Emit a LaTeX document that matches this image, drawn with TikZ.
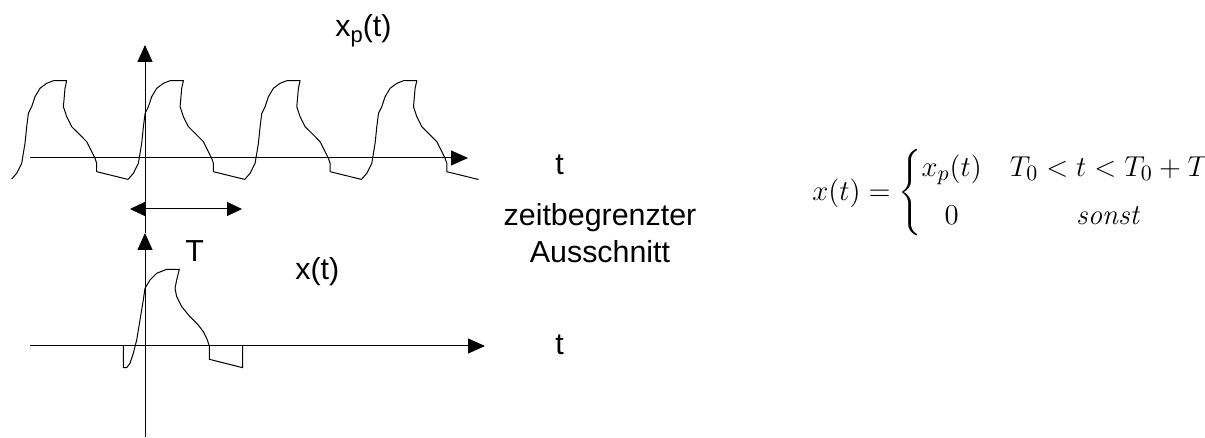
\documentclass[tikz,border=0pt]{standalone}
\usepackage{amsmath}
\usepackage[no-math]{fontspec}
\setmainfont{Liberation Sans}
\usetikzlibrary{positioning,arrows.meta,calc}

\begin{document}
\begin{tikzpicture}[x=0.5pt, y=-0.5pt,
    axis/.style={-{Triangle[length=8.5pt,width=7.5pt]}, line width=0.5pt},
    span/.style={{Triangle[length=7.5pt,width=7pt]}-{Triangle[length=7.5pt,width=7pt]}, line width=0.5pt},
    curve/.style={line width=0.5pt, line join=round},
    lbl/.style={font=\fontsize{15.2}{18.5}\selectfont, inner sep=0pt, anchor=base west},
    formula/.style={font=\fontsize{15}{18}\selectfont, inner sep=0pt, anchor=west}
]
\useasboundingbox (0,0) rectangle (1205,438);
% axes
\coordinate (t1start) at (30,158);
\coordinate (t1end)   at (468,158);
\coordinate (y1bot)   at (145,233);
\coordinate (y1top)   at (145,45);
\coordinate (t2start) at (30,346);
\coordinate (t2end)   at (485,346);
\coordinate (y2bot)   at (145,437);
\coordinate (y2top)   at (145,233);
\coordinate (Tleft)   at (130,209);
\coordinate (Tright)  at (242,209);
\draw[axis] (t1start) -- (t1end);
\draw[axis] (y1bot) -- (y1top);
\draw[axis] (t2start) -- (t2end);
\draw[axis] (y2bot) -- (y2top);
\draw[span] (Tleft) -- (Tright);
% periodic signal
\foreach \k in {0,...,3} {
  \draw[curve, shift={(11.7+\k*116.7,0)}] (0,179) -- (5,173.3) -- (10,163.3) -- (13.3,143.3)
    -- (15,126.7) -- (16.7,113.3) -- (20,106.7) -- (23.3,96.7) -- (28.3,88.3) -- (35,83.3)
    -- (41.7,80.7) -- (55,80.7) -- (53.3,88.3) -- (51.7,106.7) -- (55,116.7) -- (60,126.7)
    -- (66.7,133.3) -- (75,141.7) -- (80,151.7) -- (83.3,158.3) -- (85,163.3) -- (85,171.7)
    -- (116.7,179.5);
}
% time-limited section
\draw[curve] (123.3,345.7) -- (123.3,367.7) -- (126.7,367.7) -- (130,363.3) -- (133.3,353.3)
  -- (136.7,340) -- (140,320) -- (143.3,300) -- (145,288.3) -- (150,280) -- (156.7,273.3)
  -- (166.7,269.3) -- (179.3,269.3) -- (176.7,280) -- (175,288.3) -- (176.7,296.7)
  -- (181.7,306.7) -- (190,316.7) -- (198.3,325) -- (203.3,331.7) -- (206.7,338.3)
  -- (209.3,345.7) -- (209.3,359.3) -- (242.7,367.7) -- (242.7,345.7);
% labels
\node[lbl] (xp)  at (335,37)  {x\raisebox{-3pt}{\fontsize{11}{13}\selectfont p}(t)};
\node[lbl] (t1)  at (555,175) {t};
\node[lbl] (T)   at (185,262) {T};
\node[lbl] (xt)  at (295,280) {x(t)};
\node[lbl, anchor=base, align=center] (cut) at (600,263) {zeitbegrenzter\\Ausschnitt};
\node[lbl] (t2)  at (555,355) {t};
\node[formula] (def) at (812,193) {$\displaystyle x(t)=\left\{\begin{array}{@{}c@{\hspace{14pt}}c@{}}
    x_p(t) & T_0<t<T_0+T\\[6pt]
    0 & \mathit{sonst}
  \end{array}\right.$};
\end{tikzpicture}
\end{document}
